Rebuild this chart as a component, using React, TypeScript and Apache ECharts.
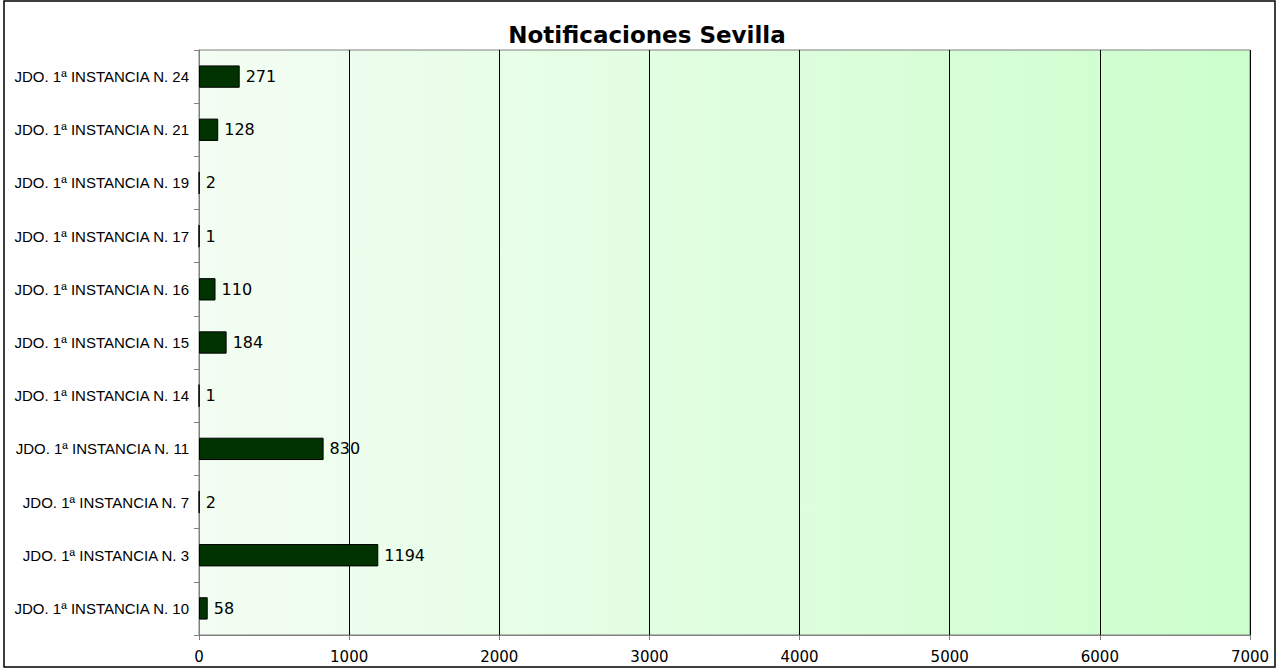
import React, { useEffect, useRef } from "react";
import * as echarts from "echarts";

const categories = [
  "JDO. 1ª INSTANCIA N. 10",
  "JDO. 1ª INSTANCIA N. 3",
  "JDO. 1ª INSTANCIA N. 7",
  "JDO. 1ª INSTANCIA N. 11",
  "JDO. 1ª INSTANCIA N. 14",
  "JDO. 1ª INSTANCIA N. 15",
  "JDO. 1ª INSTANCIA N. 16",
  "JDO. 1ª INSTANCIA N. 17",
  "JDO. 1ª INSTANCIA N. 19",
  "JDO. 1ª INSTANCIA N. 21",
  "JDO. 1ª INSTANCIA N. 24",
];
const values = [58, 1194, 2, 830, 1, 184, 110, 1, 2, 128, 271];
const title = "Notificaciones Sevilla";

export default function App() {
  const ref = useRef<HTMLDivElement>(null);
  useEffect(() => {
    if (!ref.current) return;
    const chart = echarts.init(ref.current, undefined, { renderer: "svg" });
    chart.setOption({
      animation: false,
      title: {
        text: title,
        left: 642,
        top: 18,
        textAlign: "center",
        textStyle: { fontFamily: "DejaVu Sans", fontSize: 23, fontWeight: "bold", color: "#000" },
      },
      graphic: [
        {
          type: "rect",
          shape: { x: 4, y: 1, width: 1271, height: 666 },
          style: { fill: "none", stroke: "#000", lineWidth: 1.5 },
          silent: true,
          z: 100,
        },
      ],
      grid: {
        left: 199,
        right: 28,
        top: 50,
        bottom: 34,
        show: true,
        borderColor: "#808080",
        borderWidth: 1,
        backgroundColor: new echarts.graphic.LinearGradient(0, 0, 1, 0, [
          { offset: 0, color: "#f3fdf3" },
          { offset: 1, color: "#ccffcc" },
        ]),
      },
      xAxis: {
        type: "value",
        min: 0,
        max: 7000,
        interval: 1000,
        axisLine: { show: true, lineStyle: { color: "#808080" } },
        axisTick: { show: true, length: 5, lineStyle: { color: "#808080" } },
        axisLabel: {
          fontFamily: "DejaVu Sans",
          fontSize: 15,
          color: "#000",
          margin: 14,
          formatter: (v: number) => String(v),
        },
        splitLine: { show: true, lineStyle: { color: "#000", width: 1 } },
      },
      yAxis: {
        type: "category",
        data: categories,
        axisLine: { show: true, lineStyle: { color: "#808080" } },
        axisTick: { show: true, length: 5, lineStyle: { color: "#808080" } },
        axisLabel: { fontFamily: "Liberation Sans", fontSize: 15, color: "#000", margin: 10 },
      },
      series: [
        {
          type: "bar",
          data: values,
          barWidth: "42%",
          itemStyle: { color: "#003300", borderColor: "#000", borderWidth: 1 },
          label: {
            show: true,
            position: "right",
            distance: 6,
            fontFamily: "DejaVu Sans",
            fontSize: 16,
            color: "#000",
          },
        },
      ],
    });
    return () => chart.dispose();
  }, []);
  return <div ref={ref} style={{ width: 1278, height: 669, position: "absolute", left: 0, top: 0 }} />;
}
